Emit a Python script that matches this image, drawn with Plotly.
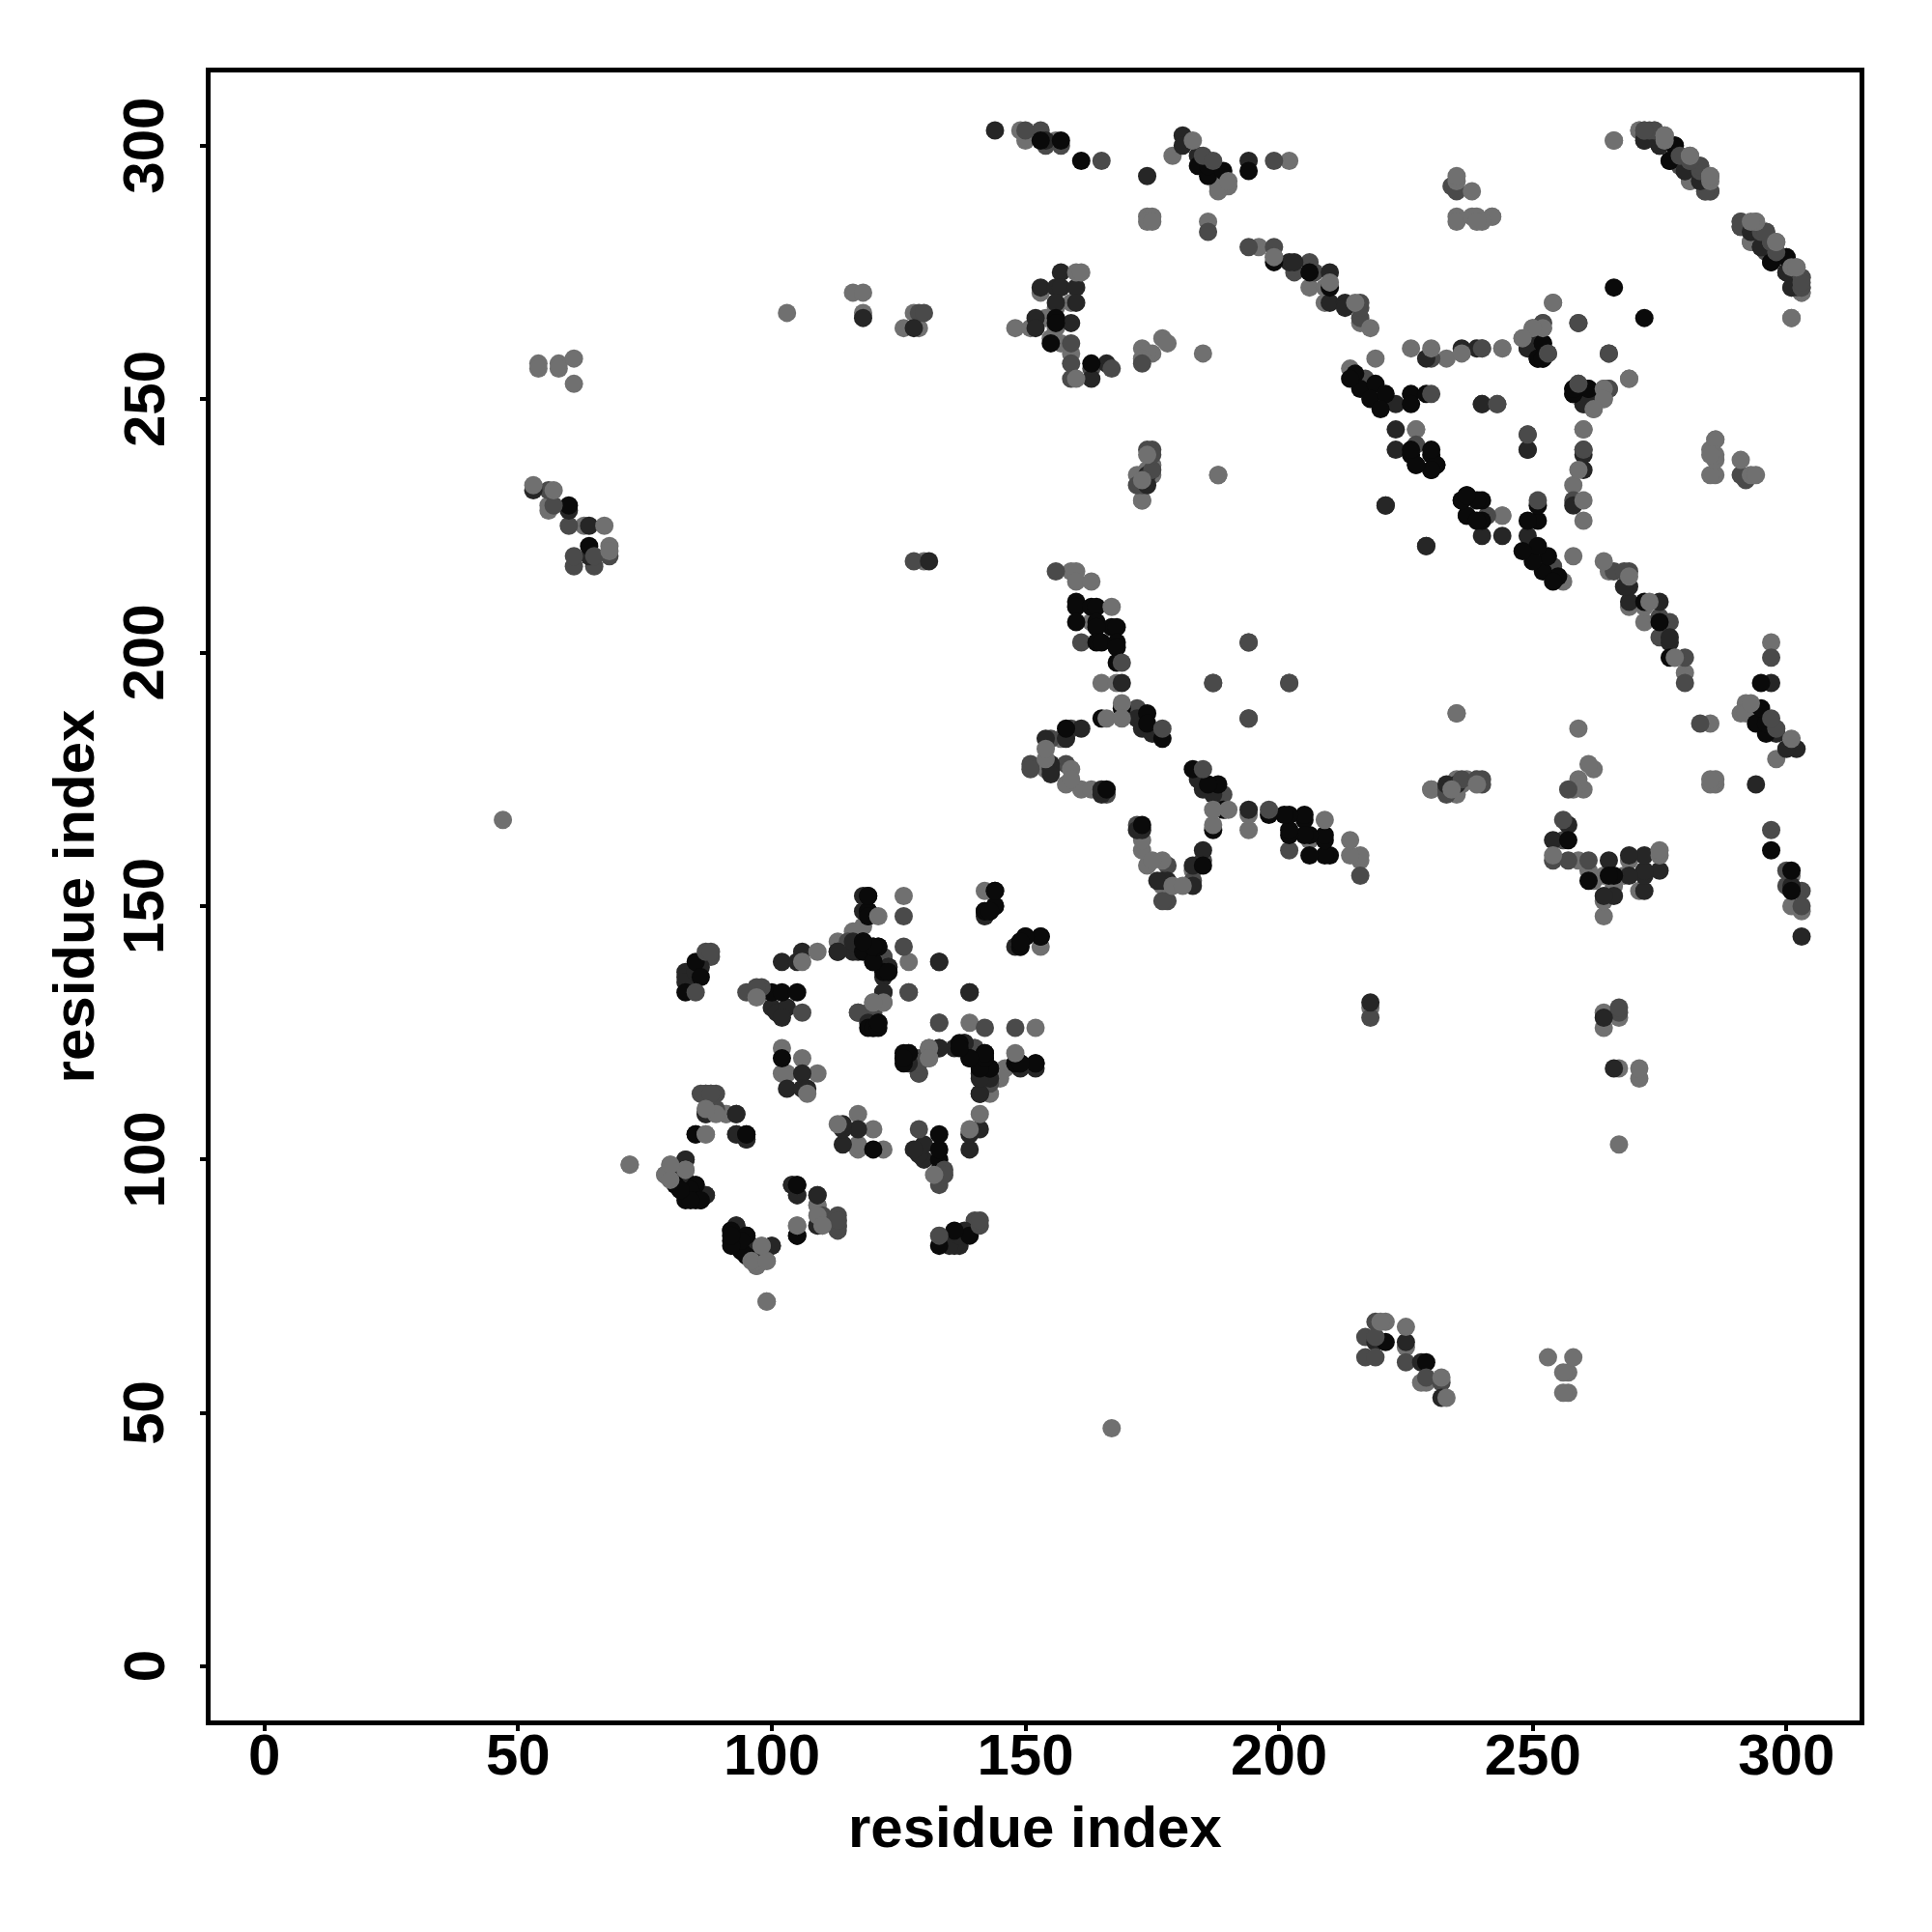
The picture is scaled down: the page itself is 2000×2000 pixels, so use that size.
import plotly.graph_objects as go

tick_values = [0, 50, 100, 150, 200, 250, 300]
axis_title = "residue index"

# contacts as (i, j) residue pairs; the map is symmetric
light = [(54,257),(54,256),(58,257),(58,256),(61,258),(61,253),(103,267),
 (149,303),(150,301),(156,301),(179,298),(174,286),(175,286),(174,285),(175,285),(116,271),(118,271),(118,267),(126,264),(128,267),(129,264),(148,264),(151,264),(153,271),(159,269),(156,268),(156,264),(154,266),(155,262),(157,261),(159,259),(177,262),(175,259),(173,260),(174,259),(173,258),
 (190,292),(188,291),(188,292),(202,297),(186,285),(196,280),(199,278),(206,272),(209,272),(209,269),(216,265),(235,286),(235,285),(238,286),(242,286),(185,259),(178,261),(219,258),(226,260),(233,258),(244,260),(214,256),(227,244),(188,235),(244,227),(235,188),(230,173),(234,173),(235,175),(236,174),(237,175),
 (266,301),(271,303),(274,303),(281,293),(291,285),(293,281),(301,266),(303,271),(254,269),(269,254),(248,262),(250,264),(260,244),(286,242),(285,240),
 (56,229),(56,228),(63,225),(172,235),(173,230),(130,218),(159,216),(160,216),(160,214),(163,214),(163,206),(165,194),(168,194),(157,183),(154,177),(154,178),(158,174),(161,173),(163,173),
 (47,167),(102,122),(106,120),(102,117),(103,117),(109,117),(87,110),(88,110),(91,109),(72,99),(80,99),(79,97),(80,97),(97,79),(109,91),(99,72),
 (126,152),(127,139),(142,153),(118,146),(116,145),(113,143)]

mid = [(153,303),(154,300),(157,300),(129,267),(130,267),(159,257),(163,256),(159,254),(173,257),
 (199,297),(186,283),(194,280),(203,275),(207,275),(206,277),(216,266),(234,292),(235,291),(230,258),(217,254),(241,227),(194,202),(187,194),(202,194),(194,187),(233,173),(240,175),(240,174),
 (272,302),(274,302),(279,296),(283,293),(285,291),(284,291),(291,284),(298,278),(259,265),(265,259),(252,264),(253,259),(249,243),(260,240),
 (56,232),(60,225),(65,217),(61,217),(68,219),(172,233),(128,218),(156,216),(161,202),(172,189),(159,185),(155,183),(151,178),(151,177),(158,178),(166,172),
 (87,140),(88,140),(95,133),(98,133),(87,113),(88,113),(89,113),(110,89),(113,87),(113,86),(122,131),(126,148),(127,133),(133,127),(129,120),(129,117),(140,122),(122,140),(117,129),(119,129),(115,143)]

dark = [(144,303),(154,301),(174,294),(118,266),(128,264),(152,266),(152,264),(153,272),(157,275),(156,272),(157,272),(160,272),(160,269),(156,269),(159,265),(163,254),(166,257),
 (181,302),(181,300),(184,298),(194,297),(202,277),(203,277),(210,275),(210,269),(213,269),(213,268),(229,258),(236,260),(239,260),(223,249),(223,244),(223,240),(229,221),(221,229),(240,249),
 (272,301),(275,300),(277,297),(280,295),(293,283),(295,280),(300,275),(301,272),(249,261),(249,260),(262,250),(260,249),(249,240),(53,232),(60,228),(64,225),(64,219),
 (174,235),(174,233),(131,218),(169,194),(172,187),(173,185),(175,184),(161,185),(158,183),(154,183),(155,178),(155,177),(155,176),(165,172),(165,173),
 (83,137),(83,136),(83,135),(86,138),(85,137),(100,130),(101,129),(103,130),(102,128),(102,139),(105,139),(106,141),(113,141),(106,117),(103,114),(106,114),(107,114),(93,109),(87,109),(93,105),(95,104),(83,100),(81,97),(87,93),(86,92),(104,95),(105,93),(109,93),(109,87),(93,87),(95,85),(96,83),(100,83),
 (118,152),(118,149),(119,148),(133,139),(139,133),(142,148),(116,141),(122,136),(123,138),(122,133),(119,127),(126,120),(133,122),(138,123),(141,117),(141,113),(143,116)]

black = [(153,301),(157,301),(161,297),(184,296),(186,294),(186,296),(189,295),(194,295),(199,277),(210,272),(206,275),(215,255),(216,252),(219,253),(218,250),(221,251),(220,248),(226,251),(226,249),(229,251),(156,266),(156,265),(155,261),(163,257),(227,237),(226,239),(230,239),(230,236),(231,237),(237,231),(236,230),(240,230),(237,227),(240,226),(214,254),(278,300),(297,277),(300,278),(266,272),(252,261),(251,258),(252,258),(258,251),(258,252),(261,252),(60,229),(64,221),(160,210),(160,209),(163,209),(164,209),(160,206),(164,206),(167,205),(168,205),(164,205),(164,202),(165,202),(168,202),(168,201),(168,198),(165,187),(169,189),(174,188),(174,186),(177,183),(158,185),(166,173),
 (85,139),(83,133),(86,136),(100,133),(102,133),(105,133),(102,120),(85,105),(95,105),(81,95),(82,94),(85,95),(84,94),(83,92),(85,92),(105,95),(105,85),(92,86),(92,84),(94,82),
 (119,152),(119,149),(144,153),(142,149),(144,150),(143,149),(149,142),(150,144),(153,144),(149,143),(118,143),(118,141),(120,142),(121,142),(120,139),(122,137),(119,126),(121,127),(120,126),(126,121),(127,121),(137,123),(139,120),(142,121),(142,120),(143,118),(149,119),(152,119),(148,119)]

# marks that lie on top of the darker ones in the picture
over_mid = [(150,303),(165,297),(167,256),(159,261),(185,298),(187,297),(199,280),(216,269),(216,268),(240,260),(230,251),(243,249),(272,303),(273,303),(279,298),(281,297),(283,296),(295,283),(296,283),(297,281),(303,274),(303,272),(252,265),(265,252),(259,253),(175,236),(175,239),(169,198),(177,185),(85,133),(87,141),(88,141),(98,134),(97,134),(106,129),(113,88),(126,142),(61,219),(65,219),(57,229)]

over_light = [(183,301),(190,293),(276,302),(281,298),(285,294),(285,293),(294,285),(298,281),(301,276),(302,276),(199,278),(160,275),(161,275),(210,273),(215,269),(218,264),(230,260),(236,259),(238,291),(235,293),(235,294),(239,286),(239,285),(264,252),(264,250),(262,248),(160,254),(167,209),(166,187),(169,190),(169,187),(159,177),(159,175),(154,179),(154,181),(97,132),(87,105),(106,139),(109,141),(107,113),(109,89),(110,87),(105,87),(98,83),(96,80),(99,80),(83,98),(121,148),(120,131),(131,122),(131,120),(57,232),(53,233),(67,225),(68,221),(68,220),(173,234),(174,239)]

groups = [(light, "#707070"), (mid, "#4a4a4a"), (dark, "#262626"), (black, "#0a0a0a"),
          (over_mid, "#4a4a4a"), (over_light, "#707070")]

fig = go.Figure()
for pairs, colour in groups:
    xs = [p[0] for p in pairs] + [p[1] for p in pairs]
    ys = [p[1] for p in pairs] + [p[0] for p in pairs]
    fig.add_trace(go.Scatter(x=xs, y=ys, mode="markers",
                             marker=dict(size=19, color=colour, line=dict(width=0)),
                             showlegend=False))

font = dict(family="Liberation Sans", size=60, color="black", weight="bold")
axis = dict(range=[-10.62, 314.42], tickvals=tick_values, ticks="outside", ticklen=6, tickwidth=3.5,
            tickcolor="black", showline=True, linecolor="black", linewidth=5, mirror=True,
            showgrid=False, zeroline=False, tickfont=font)

fig.update_layout(width=2000, height=2000, autosize=False,
                  margin=dict(l=210.2, r=83.3, t=67, b=226.5, pad=0),
                  paper_bgcolor="white", plot_bgcolor="white",
                  xaxis=dict(**axis, ticklabelstandoff=-27),
                  yaxis=dict(**axis, showticklabels=False,
                             title=dict(text=axis_title, font=font, standoff=92)))

# rotated y tick labels, centred on their ticks
for v in tick_values:
    fig.add_annotation(xref="paper", yref="y", x=0, y=v, text=str(v), textangle=-90, font=font,
                       showarrow=False, xanchor="center", yanchor="middle", xshift=-69)

# x axis title, centred under the frame
fig.add_annotation(xref="paper", yref="paper", x=0.5, y=0, text=axis_title, font=font,
                   showarrow=False, xanchor="center", yanchor="middle", yshift=-110)

fig.write_html("out.html")
